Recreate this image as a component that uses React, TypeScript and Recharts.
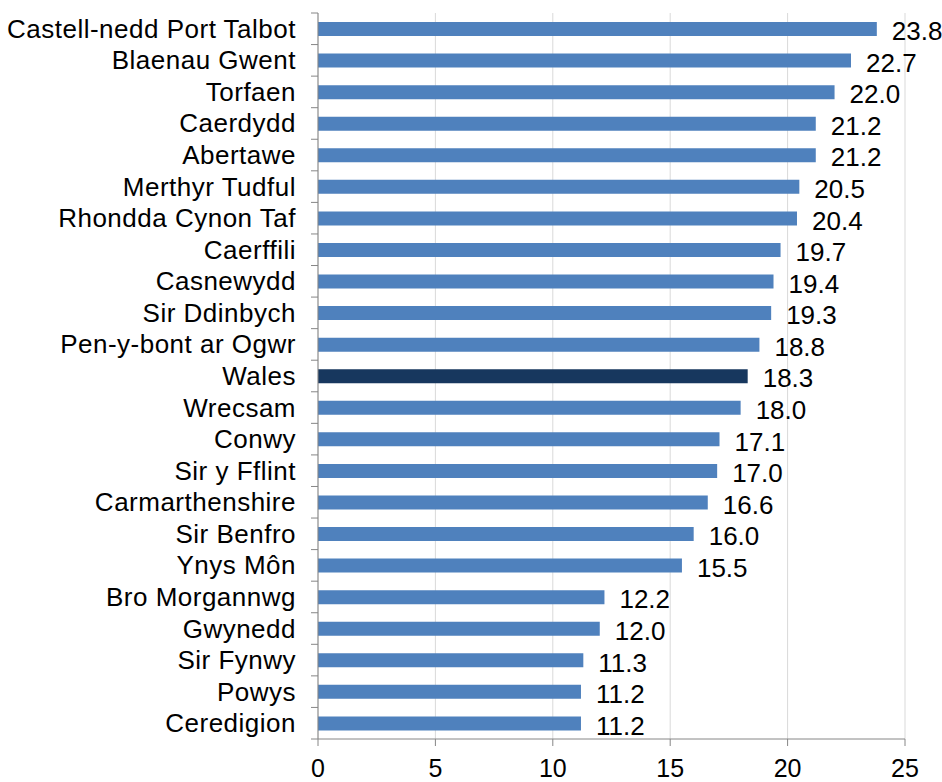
import { Bar, BarChart, CartesianGrid, Cell, LabelList, XAxis, YAxis } from "recharts";

const AREAS = [
  "Castell-nedd Port Talbot",
  "Blaenau Gwent",
  "Torfaen",
  "Caerdydd",
  "Abertawe",
  "Merthyr Tudful",
  "Rhondda Cynon Taf",
  "Caerffili",
  "Casnewydd",
  "Sir Ddinbych",
  "Pen-y-bont ar Ogwr",
  "Wales",
  "Wrecsam",
  "Conwy",
  "Sir y Fflint",
  "Carmarthenshire",
  "Sir Benfro",
  "Ynys Môn",
  "Bro Morgannwg",
  "Gwynedd",
  "Sir Fynwy",
  "Powys",
  "Ceredigion",
];

const RATES = [
  23.8, 22.7, 22.0, 21.2, 21.2, 20.5, 20.4, 19.7, 19.4, 19.3, 18.8, 18.3, 18.0, 17.1, 17.0, 16.6, 16.0,
  15.5, 12.2, 12.0, 11.3, 11.2, 11.2,
];

const X_TICKS = [0, 5, 10, 15, 20, 25];

const HIGHLIGHT = "Wales";

const data = AREAS.map((area, i) => ({ area, rate: RATES[i] }));

const FONT = "'Liberation Sans', Arial, sans-serif";
const AXIS_GREY = "#868686";

const TOP = 13;
const X_AXIS_H = 43;
const PLOT_H = 782 - TOP - X_AXIS_H;
const BAND = PLOT_H / AREAS.length;
const Y_AXIS_W = 318;

// excel-style category ticks sit on band edges, not centres
function AreaTick(props: any) {
  const { y, payload, index } = props;
  const isLast = index === AREAS.length - 1;
  return (
    <g>
      <line x1={Y_AXIS_W - 7} x2={Y_AXIS_W} y1={y - BAND / 2} y2={y - BAND / 2} stroke={AXIS_GREY} />
      {isLast && <line x1={Y_AXIS_W - 7} x2={Y_AXIS_W} y1={y + BAND / 2} y2={y + BAND / 2} stroke={AXIS_GREY} />}
      <text
        x={Y_AXIS_W - 22}
        y={y}
        dy={9}
        textAnchor="end"
        fontSize={26}
        letterSpacing={0.5}
        fontFamily={FONT}
        fill="#000"
      >
        {payload.value}
      </text>
    </g>
  );
}

export default function App() {
  return (
    <div style={{ position: "absolute", left: 0, top: 0, background: "#fff" }}>
      <BarChart
        width={942}
        height={782}
        data={data}
        layout="vertical"
        margin={{ top: TOP, right: 37, bottom: 0, left: 0 }}
        barCategoryGap={0}
      >
        <CartesianGrid horizontal={false} stroke="#d9d9d9" />
        <XAxis
          type="number"
          domain={[0, 25]}
          ticks={X_TICKS}
          interval={0}
          height={X_AXIS_H}
          stroke={AXIS_GREY}
          tickSize={7}
          tickMargin={13}
          tick={{ fontSize: 25, fontFamily: FONT, fill: "#000" }}
        />
        <YAxis
          type="category"
          dataKey="area"
          width={Y_AXIS_W}
          interval={0}
          stroke={AXIS_GREY}
          tickLine={false}
          tick={<AreaTick />}
        />
        <Bar dataKey="rate" barSize={14} isAnimationActive={false}>
          {data.map((d) => (
            <Cell key={d.area} fill={d.area === HIGHLIGHT ? "#17375E" : "#4F81BD"} />
          ))}
          <LabelList
            dataKey="rate"
            position="right"
            offset={15}
            formatter={(v: any) => Number(v).toFixed(1)}
            style={{ fontSize: 26, fontFamily: FONT, fill: "#000" }}
            dy={2}
          />
        </Bar>
      </BarChart>
    </div>
  );
}
